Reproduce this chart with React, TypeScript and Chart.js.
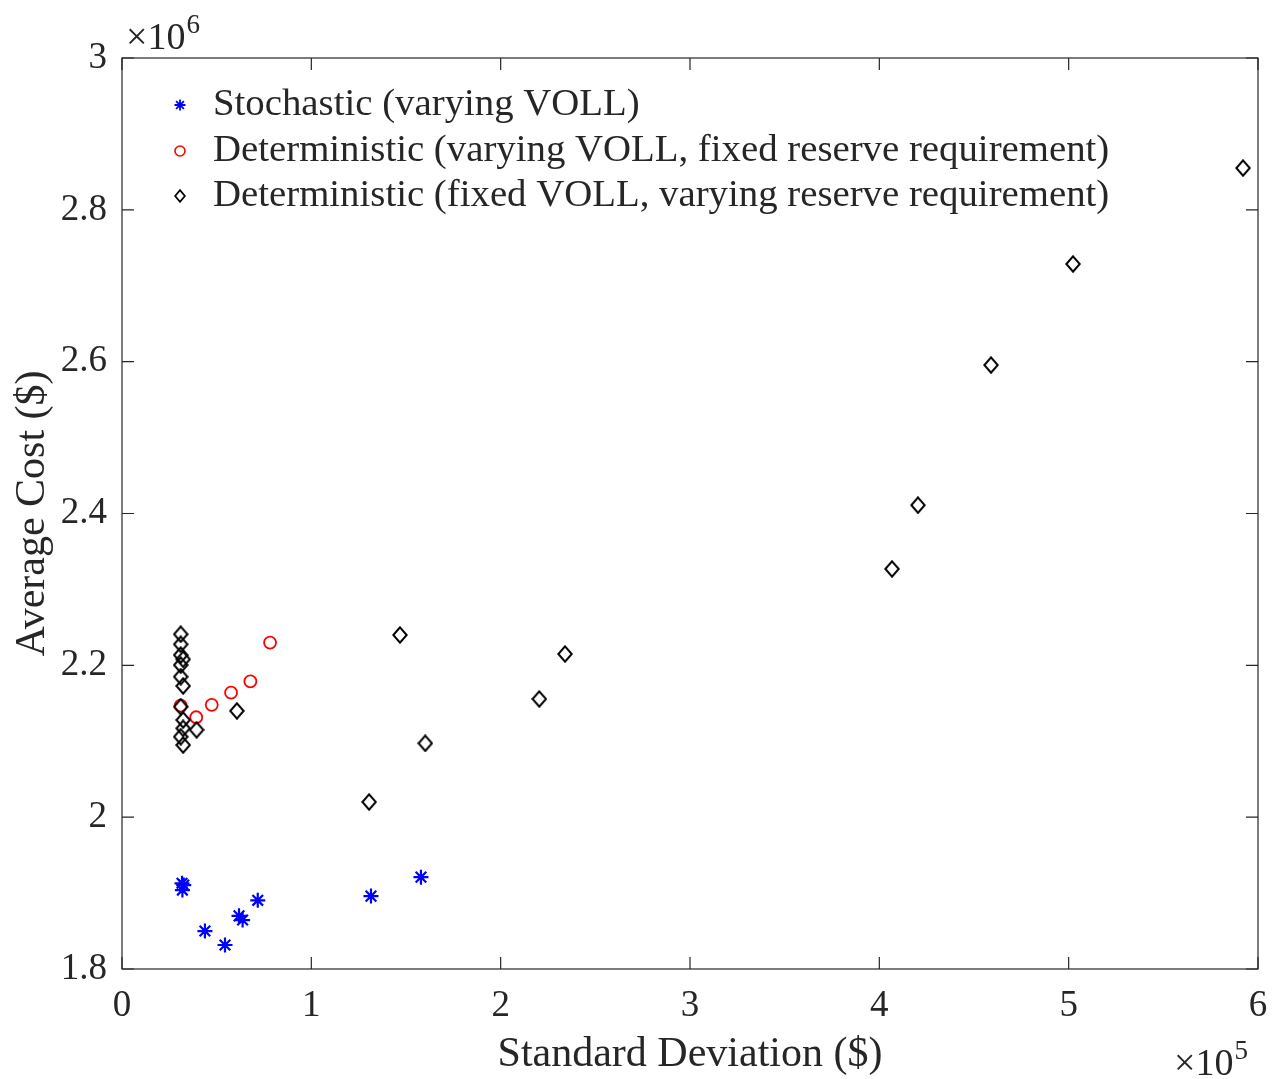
import React, { useEffect, useRef } from 'react';
import { Chart, registerables } from 'chart.js';

Chart.register(...registerables);

const FONT = '"Liberation Serif", "Times New Roman", Times, serif';
const TEXT = '#262626';
const AXIS = '#262626';

// x tick labels are in units of 1e5, y tick labels in units of 1e6
const xTickValues = [0, 1, 2, 3, 4, 5, 6];
const yTickValues = [1.8, 2.0, 2.2, 2.4, 2.6, 2.8, 3.0];

const seriesLabels = [
  'Stochastic (varying VOLL)',
  'Deterministic (varying VOLL, fixed reserve requirement)',
  'Deterministic (fixed VOLL, varying reserve requirement)',
];

// Stochastic (varying VOLL)
const stochasticSD = [31700, 32600, 31900, 43800, 54400, 61800, 63700, 71700, 131500, 157900];
const stochasticCost = [1912900, 1910500, 1904000, 1850000, 1831600, 1870000, 1864500, 1890500, 1896000, 1921000];

// Deterministic (varying VOLL, fixed reserve requirement)
const detVollSD = [31000, 39200, 47400, 57600, 67800, 78200];
const detVollCost = [2146800, 2131600, 2148000, 2164000, 2179000, 2230000];

// Deterministic (fixed VOLL, varying reserve requirement)
const detReserveSD = [
  31000, 31000, 31000, 32300, 31000, 31000, 32300, 31000, 32300, 32300, 31000, 32300,
  39400, 60700, 130500, 146800, 160200, 220400, 234000, 406700, 420400, 459000, 502300, 592100,
];
const detReserveCost = [
  2241000, 2227700, 2213600, 2208000, 2200400, 2185000, 2172800, 2145500, 2128000, 2117000, 2106000, 2095000,
  2115000, 2140000, 2020000, 2240000, 2097300, 2155700, 2215000, 2327000, 2411000, 2595600, 2728700, 2855100,
];

const toPoints = (xs: number[], ys: number[]) => xs.map((x, i) => ({ x, y: ys[i] }));

function makeDiamond(w: number, h: number, lw: number, color: string): HTMLCanvasElement {
  const c = document.createElement('canvas');
  c.width = w;
  c.height = h;
  const ctx = c.getContext('2d')!;
  ctx.strokeStyle = color;
  ctx.lineWidth = lw;
  ctx.lineJoin = 'miter';
  const m = lw / 2 + 0.3;
  ctx.beginPath();
  ctx.moveTo(w / 2, m);
  ctx.lineTo(w - m, h / 2);
  ctx.lineTo(w / 2, h - m);
  ctx.lineTo(m, h / 2);
  ctx.closePath();
  ctx.stroke();
  return c;
}

function drawAsterisk(ctx: CanvasRenderingContext2D, x: number, y: number, r: number) {
  ctx.beginPath();
  for (let k = 0; k < 4; k++) {
    const a = (k * Math.PI) / 4;
    ctx.moveTo(x - r * Math.cos(a), y - r * Math.sin(a));
    ctx.lineTo(x + r * Math.cos(a), y + r * Math.sin(a));
  }
  ctx.stroke();
}

export default function App() {
  const ref = useRef<HTMLCanvasElement | null>(null);

  useEffect(() => {
    if (!ref.current) return;
    const diamond = makeDiamond(16, 18, 2, '#000000');
    const legendDiamond = makeDiamond(12, 14, 1.7, '#000000');

    const framePlugin = {
      id: 'matlabFrame',
      afterDatasetsDraw(chart: any) {
        const { ctx, chartArea } = chart;
        const { left, right, top, bottom } = chartArea;
        const xs = chart.scales.x;
        const ys = chart.scales.y;
        ctx.save();
        // box
        ctx.strokeStyle = AXIS;
        ctx.lineWidth = 1.2;
        ctx.strokeRect(left, top, right - left, bottom - top);
        // inward ticks
        const tl = 12;
        ctx.beginPath();
        xTickValues.forEach((v) => {
          const px = xs.getPixelForValue(v * 1e5);
          ctx.moveTo(px, bottom);
          ctx.lineTo(px, bottom - tl);
          ctx.moveTo(px, top);
          ctx.lineTo(px, top + tl);
        });
        yTickValues.forEach((v) => {
          const py = ys.getPixelForValue(v * 1e6);
          ctx.moveTo(left, py);
          ctx.lineTo(left + tl, py);
          ctx.moveTo(right, py);
          ctx.lineTo(right - tl, py);
        });
        ctx.stroke();

        // exponent labels
        ctx.fillStyle = TEXT;
        ctx.textAlign = 'left';
        ctx.textBaseline = 'alphabetic';
        ctx.font = `38px ${FONT}`;
        ctx.fillText('\u00d710', left + 4, top - 9);
        const w1 = ctx.measureText('\u00d710').width;
        ctx.font = `27px ${FONT}`;
        ctx.fillText('6', left + 4 + w1 + 1, top - 25);
        ctx.font = `38px ${FONT}`;
        ctx.fillText('\u00d710', right - 84, bottom + 106);
        const w2 = ctx.measureText('\u00d710').width;
        ctx.font = `27px ${FONT}`;
        ctx.fillText('5', right - 84 + w2 + 1, bottom + 90);

        // legend (inside the axes, top-left, no box)
        const rowY = [top + 47, top + 93, top + 138];
        const mx = left + 58;
        const tx = left + 91;
        ctx.lineWidth = 1.8;
        ctx.strokeStyle = '#0000ff';
        drawAsterisk(ctx, mx, rowY[0], 5.5);
        ctx.lineWidth = 1.6;
        ctx.strokeStyle = '#ff0000';
        ctx.beginPath();
        ctx.arc(mx, rowY[1], 5, 0, Math.PI * 2);
        ctx.stroke();
        ctx.drawImage(legendDiamond, mx - legendDiamond.width / 2, rowY[2] - legendDiamond.height / 2);
        ctx.fillStyle = TEXT;
        ctx.font = `38.8px ${FONT}`;
        ctx.textBaseline = 'middle';
        seriesLabels.forEach((t, i) => ctx.fillText(t, tx, rowY[i]));
        ctx.restore();
      },
    };

    const chart = new Chart(ref.current, {
      type: 'scatter',
      data: {
        datasets: [
          {
            label: seriesLabels[0],
            data: toPoints(stochasticSD, stochasticCost),
            pointStyle: 'star',
            pointRadius: 7.5,
            borderWidth: 2.2,
            borderColor: '#0000ff',
            backgroundColor: '#0000ff',
            order: 3,
          },
          {
            label: seriesLabels[1],
            data: toPoints(detVollSD, detVollCost),
            pointStyle: 'circle',
            pointRadius: 6,
            borderWidth: 1.8,
            borderColor: '#ff0000',
            backgroundColor: 'rgba(0,0,0,0)',
            order: 2,
          },
          {
            label: seriesLabels[2],
            data: toPoints(detReserveSD, detReserveCost),
            pointStyle: diamond as any,
            pointRadius: 7,
            borderWidth: 2,
            borderColor: '#000000',
            backgroundColor: 'rgba(0,0,0,0)',
            order: 1,
          },
        ],
      },
      options: {
        responsive: false,
        animation: false,
        layout: { padding: { top: 58, right: 16, left: 0, bottom: 0 } },
        plugins: {
          legend: { display: false },
          tooltip: { enabled: false },
        },
        scales: {
          x: {
            type: 'linear',
            min: 0,
            max: 6e5,
            afterFit(s: any) {
              s.height = 110;
              s.paddingLeft = 0;
              s.paddingRight = 0;
            },
            grid: { display: false },
            border: { display: false },
            ticks: {
              stepSize: 1e5,
              autoSkip: false,
              maxRotation: 0,
              padding: 7,
              color: TEXT,
              font: { family: FONT, size: 37 },
              callback: (v: any) => String(Math.round(Number(v) / 1e4) / 10),
            },
            title: {
              display: true,
              text: 'Standard Deviation ($)',
              color: TEXT,
              font: { family: FONT, size: 42 },
              padding: { top: 0, bottom: -1 },
            },
          },
          y: {
            type: 'linear',
            min: 1.8e6,
            max: 3e6,
            afterFit(s: any) {
              s.width = 122;
              s.paddingTop = 0;
              s.paddingBottom = 0;
            },
            grid: { display: false },
            border: { display: false },
            ticks: {
              stepSize: 2e5,
              autoSkip: false,
              padding: 7,
              color: TEXT,
              font: { family: FONT, size: 37 },
              callback: (v: any) => String(Math.round(Number(v) / 1e5) / 10),
            },
            title: {
              display: true,
              text: 'Average Cost ($)',
              color: TEXT,
              font: { family: FONT, size: 42 },
              padding: { top: 8, bottom: 0 },
            },
          },
        },
      },
      plugins: [framePlugin],
    });
    return () => chart.destroy();
  }, []);

  return (
    <div style={{ position: 'absolute', left: 0, top: 0, width: 1274, height: 1079, background: '#ffffff' }}>
      <canvas ref={ref} width={1274} height={1079} style={{ display: 'block', width: 1274, height: 1079 }} />
    </div>
  );
}
